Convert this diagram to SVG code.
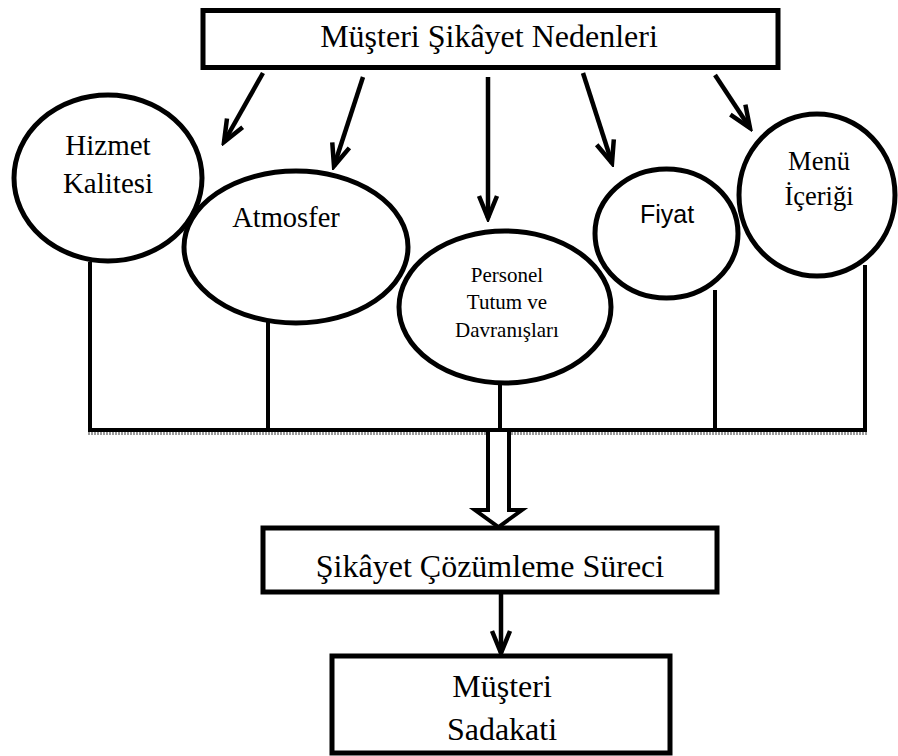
<svg xmlns="http://www.w3.org/2000/svg" width="898" height="756" viewBox="0 0 898 756">
<style>
.box{fill:#fff;stroke:#000;stroke-width:5}
.ell{fill:#fff;stroke:#000;stroke-width:5}
.t{font-family:"Liberation Serif","Times New Roman",serif;fill:#000;text-anchor:middle}
.s{font-family:"Liberation Sans",Arial,sans-serif;fill:#000;text-anchor:middle}
.ln{stroke:#000;stroke-width:4;fill:none}
.arr{stroke:#000;stroke-width:4.5;fill:none;marker-end:url(#chev)}
.shadow{stroke:#9a9a9a;stroke-width:3;fill:none;stroke-dasharray:2 1}
</style>
<defs>
<marker id="chev" markerUnits="userSpaceOnUse" viewBox="-26 -12 30 24" refX="0" refY="0" markerWidth="30" markerHeight="24" orient="auto">
<path d="M-22,-9 L0,0 L-22,9" fill="none" stroke="#000" stroke-width="4.5" stroke-linejoin="miter"/>
</marker>
</defs>
<rect width="898" height="756" fill="#fff"/>
<g id="connectors">
<line class="arr" x1="263" y1="73" x2="224" y2="142"/>
<line class="arr" x1="363" y1="77" x2="334" y2="166"/>
<line class="arr" x1="488" y1="77" x2="488" y2="218"/>
<line class="arr" x1="583" y1="73" x2="612" y2="163"/>
<line class="arr" x1="715" y1="75" x2="750" y2="128"/>
<line class="ln" x1="90" y1="262" x2="90" y2="430"/>
<line class="ln" x1="268" y1="322" x2="268" y2="430"/>
<line class="ln" x1="500" y1="382" x2="500" y2="430"/>
<line class="ln" x1="715" y1="290" x2="715" y2="430"/>
<line class="ln" x1="865" y1="265" x2="865" y2="430"/>
<line class="shadow" x1="88" y1="433.5" x2="867" y2="433.5"/>
<line class="ln" x1="88" y1="430" x2="867" y2="430" stroke-width="5"/>
<polygon points="488,430 509,430 509,510 522,510 498.5,527 475,510 488,510" fill="#fff" stroke="#000" stroke-width="4" stroke-linejoin="miter"/>
<line class="arr" x1="501" y1="593" x2="501" y2="653"/>
</g>
<g id="node-nedenler">
<rect class="box" x="203" y="10.5" width="575" height="57"/>
<text class="t" x="489" y="47" font-size="32">Müşteri Şikâyet Nedenleri</text>
</g>
<g id="node-hizmet">
<ellipse class="ell" cx="108" cy="178" rx="94" ry="83"/>
<text class="t" x="108" y="155" font-size="29">Hizmet</text>
<text class="t" x="108" y="193" font-size="29">Kalitesi</text>
</g>
<g id="node-atmosfer">
<ellipse class="ell" cx="296" cy="247" rx="112" ry="76"/>
<text class="t" x="286" y="227" font-size="28.5">Atmosfer</text>
</g>
<g id="node-personel">
<ellipse class="ell" cx="505" cy="307" rx="106" ry="76"/>
<text class="t" x="507" y="282" font-size="21">Personel</text>
<text class="t" x="507" y="309" font-size="21">Tutum ve</text>
<text class="t" x="507" y="337" font-size="21">Davranışları</text>
</g>
<g id="node-fiyat">
<ellipse class="ell" cx="666.5" cy="233.5" rx="71.5" ry="64.5"/>
<text class="s" x="667" y="223" font-size="25">Fiyat</text>
</g>
<g id="node-menu">
<ellipse class="ell" cx="817" cy="195" rx="78" ry="81"/>
<text class="t" x="819" y="170" font-size="26.5">Menü</text>
<text class="t" x="819" y="205" font-size="26.5">İçeriği</text>
</g>
<g id="node-cozum">
<rect class="box" x="263" y="528" width="454" height="64"/>
<text class="t" x="490" y="577" font-size="32">Şikâyet Çözümleme Süreci</text>
</g>
<g id="node-sadakat">
<rect class="box" x="332" y="656" width="338" height="97"/>
<text class="t" x="502" y="697" font-size="32">Müşteri</text>
<text class="t" x="502" y="740" font-size="32">Sadakati</text>
</g>
</svg>
